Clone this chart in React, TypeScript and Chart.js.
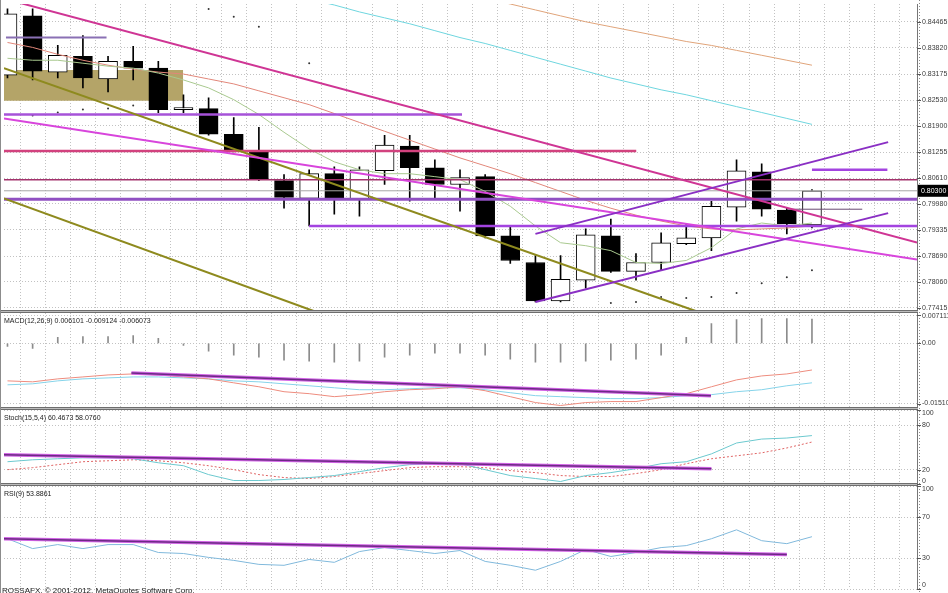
import React, { useEffect, useRef } from "react";
import { Chart, registerables } from "chart.js";

Chart.register(...registerables);

// ---------------- price data (daily candles) ----------------
const opens = [0.83152, 0.84611, 0.83225, 0.83614, 0.83055, 0.83493, 0.83322, 0.82301, 0.82326, 0.81694, 0.81256, 0.80551, 0.80114, 0.80721, 0.80089, 0.80794, 0.81402, 0.80867, 0.80454, 0.80648, 0.79190, 0.78533, 0.77585, 0.78096, 0.79190, 0.78315, 0.78533, 0.78995, 0.79141, 0.79895, 0.80770, 0.79822, 0.79457];
const highs = [0.84781, 0.84781, 0.83882, 0.84125, 0.83614, 0.83857, 0.83493, 0.82666, 0.82593, 0.82107, 0.81864, 0.80697, 0.80818, 0.80891, 0.80891, 0.81669, 0.81669, 0.81062, 0.80818, 0.80697, 0.79433, 0.78704, 0.78704, 0.79360, 0.79603, 0.78752, 0.79263, 0.79481, 0.80041, 0.81062, 0.80964, 0.79870, 0.80332];
const lows = [0.83079, 0.83031, 0.83079, 0.82836, 0.82739, 0.83031, 0.82228, 0.82228, 0.81669, 0.81256, 0.80551, 0.79870, 0.79433, 0.79725, 0.79676, 0.80454, 0.80041, 0.80114, 0.79797, 0.79141, 0.78509, 0.77560, 0.77560, 0.77901, 0.78290, 0.78096, 0.78339, 0.78970, 0.78825, 0.79554, 0.79676, 0.79238, 0.79384];
const closes = [0.84659, 0.83249, 0.83638, 0.83079, 0.83493, 0.83322, 0.82301, 0.82350, 0.81694, 0.81280, 0.80575, 0.80138, 0.80721, 0.80089, 0.80818, 0.81426, 0.80867, 0.80454, 0.80624, 0.79190, 0.78582, 0.77585, 0.78120, 0.79214, 0.78315, 0.78533, 0.79020, 0.79141, 0.79919, 0.80794, 0.79846, 0.79481, 0.80300];
const currentPrice = 0.803;

// moving averages
const fastMA = [0.83565, 0.83517, 0.83517, 0.83444, 0.83371, 0.83322, 0.83201, 0.83031, 0.82836, 0.82545, 0.82180, 0.81742, 0.81329, 0.81013, 0.80819, 0.80721, 0.80721, 0.80648, 0.80575, 0.80284, 0.79919, 0.79433, 0.79020, 0.78947, 0.78825, 0.78533, 0.78509, 0.78582, 0.78898, 0.79360, 0.79506, 0.79433, 0.79506];
const midMA = [0.83955, 0.83833, 0.83663, 0.83517, 0.83395, 0.83298, 0.83225, 0.83177, 0.83055, 0.82934, 0.82763, 0.82593, 0.82423, 0.82204, 0.81985, 0.81767, 0.81548, 0.81329, 0.81110, 0.80916, 0.80721, 0.80502, 0.80284, 0.80065, 0.79870, 0.79700, 0.79554, 0.79433, 0.79360, 0.79336, 0.79360, 0.79384, 0.79433];
const longMAStart = 12;
const longMA = [0.85024, 0.84878, 0.84708, 0.84562, 0.84416, 0.84246, 0.84076, 0.83930, 0.83760, 0.83590, 0.83420, 0.83250, 0.83079, 0.82934, 0.82788, 0.82666, 0.82520, 0.82374, 0.82229, 0.82083, 0.81937];
const longestMAStart = 19;
const longestMA = [0.85048, 0.84903, 0.84757, 0.84611, 0.84465, 0.84343, 0.84222, 0.84100, 0.83979, 0.83882, 0.83760, 0.83639, 0.83517, 0.83395];

// parabolic SAR dots
const psarIdx = [1, 2, 3, 4, 5, 8, 9, 10, 12, 24, 25, 26, 27, 28, 29, 30, 31, 32];
const psarVals = [0.82156, 0.82228, 0.82301, 0.82326, 0.82399, 0.84781, 0.84587, 0.84343, 0.83444, 0.77537, 0.77561, 0.77683, 0.77658, 0.77683, 0.77780, 0.78023, 0.78169, 0.78339];

// drawn objects (bar index, price)
const khakiBox = [-0.14, 6.99, 0.83274, 0.82520];
const resistTop = [[-0.14, 0.85035], [36.18, 0.79022]];
const resistMid = [[-0.14, 0.82083], [36.18, 0.78606]];
const oliveUpper = [[-0.14, 0.83322], [27.46, 0.77318]];
const oliveLower = [[-0.14, 0.80114], [12.26, 0.77318]];
const channelUpper = [[21, 0.79238], [35.03, 0.81499]];
const channelLower = [[21, 0.77561], [35.03, 0.79749]];
const levelA = [[-0.06, 0.84076], [3.94, 0.84076]];
const levelB = [[-0.14, 0.82180], [18.08, 0.82180]];
const levelC = [[-0.14, 0.81280], [25.01, 0.81280]];
const levelD = [[-0.14, 0.80575], [36.18, 0.80575]];
const levelE = [[-0.14, 0.80300], [36.18, 0.80300]];
const levelF = [[-0.14, 0.80089], [36.18, 0.80089]];
const levelG = [[12, 0.79433], [36.18, 0.79433]];
const levelH = [[32, 0.80818], [35, 0.80818]];
const levelI = [[31, 0.79846], [34, 0.79846]];

// MACD
const macdHist = [-0.00074, -0.00124, 0.00149, 0.00173, 0.00173, 0.00198, 0.00124, -0.00050, -0.00198, -0.00297, -0.00347, -0.00421, -0.00446, -0.00470, -0.00446, -0.00347, -0.00297, -0.00248, -0.00248, -0.00297, -0.00396, -0.00470, -0.00470, -0.00446, -0.00421, -0.00396, -0.00297, 0.00149, 0.00495, 0.00594, 0.00619, 0.00619, 0.00610];
const macdLineA = [-0.00941, -0.00965, -0.00891, -0.00842, -0.00792, -0.00767, -0.00792, -0.00842, -0.00891, -0.00990, -0.01089, -0.01213, -0.01262, -0.01337, -0.01287, -0.01213, -0.01163, -0.01139, -0.01089, -0.01188, -0.01337, -0.01485, -0.01559, -0.01485, -0.01460, -0.01460, -0.01361, -0.01262, -0.01089, -0.00916, -0.00817, -0.00767, -0.00668];
const macdLineB = [-0.01040, -0.01015, -0.00941, -0.00891, -0.00866, -0.00842, -0.00842, -0.00866, -0.00891, -0.00941, -0.00965, -0.01015, -0.01064, -0.01114, -0.01163, -0.01163, -0.01139, -0.01114, -0.01114, -0.01163, -0.01238, -0.01312, -0.01337, -0.01361, -0.01386, -0.01386, -0.01361, -0.01312, -0.01287, -0.01213, -0.01163, -0.01064, -0.00990];
const macdTrend = [[4.93, -0.00743], [27.98, -0.01312]];

// Stochastic
const stochMain = [30.7, 33.3, 34.7, 36.0, 36.0, 34.7, 29.3, 25.3, 13.3, 5.3, 5.3, 6.7, 9.3, 12.0, 17.3, 22.7, 26.7, 28.0, 28.0, 20.0, 12.0, 8.0, 4.0, 12.0, 16.0, 21.3, 28.0, 30.7, 41.3, 56.0, 61.3, 62.7, 66.0];
const stochSignal = [20.0, 22.7, 26.7, 30.7, 32.0, 33.3, 32.0, 29.3, 25.3, 20.0, 13.3, 9.3, 8.0, 10.7, 14.7, 18.7, 22.7, 24.0, 24.0, 22.7, 18.7, 16.0, 12.0, 10.7, 10.7, 14.7, 20.0, 28.0, 34.7, 38.7, 42.7, 49.3, 57.3];
const stochTrend = [[-0.14, 40.0], [28, 21.3]];

// RSI
const rsiVals = [49.0, 39.4, 43.3, 39.4, 43.3, 43.3, 35.6, 34.6, 30.8, 27.9, 24.0, 23.1, 28.8, 26.0, 36.5, 40.4, 37.5, 34.6, 37.5, 26.9, 23.1, 18.3, 26.9, 38.5, 31.7, 35.6, 40.4, 42.3, 49.0, 57.7, 47.1, 44.2, 51.0];
const rsiTrend = [[-0.14, 49.0], [31, 33.7]];

// axis ticks & texts
const mainTicks = [0.84465, 0.8382, 0.83175, 0.8253, 0.819, 0.81255, 0.8061, 0.7998, 0.79335, 0.7869, 0.7806, 0.77415];
const macdTicks = [0.007111, 0, -0.0151];
const macdTickLabels = ["0.007111", "0.00", "-0.01510"];
const stochTicks = [100, 80, 20, 0];
const rsiTicks = [100, 70, 30, 0];
const macdTitle = "MACD(12,26,9) 0.006101 -0.009124 -0.006073";
const stochTitle = "Stoch(15,5,4) 60.4673 58.0760";
const rsiTitle = "RSI(9) 53.8861";
const copyright = "ROSSAFX, \u00A9 2001-2012, MetaQuotes Software Corp.";

const X_MIN = -0.1386;
const X_MAX = 36.178;
const gridIdx = Array.from({ length: 37 }, (_, i) => i);

const pts = (arr) => arr.map((p) => ({ x: p[0], y: p[1] }));
const line = (data, color, width, axis, order, extra = {}) => ({
  type: "line",
  data,
  borderColor: color,
  borderWidth: width,
  pointRadius: 0,
  pointHoverRadius: 0,
  fill: false,
  tension: 0,
  yAxisID: axis,
  order,
  ...extra,
});

const overlayPlugin = {
  id: "mt4overlay",
  afterDraw(chart) {
    const { ctx, chartArea } = chart;
    const s = chart.scales;
    const R = chartArea.right;
    const W = chart.width;
    const H = chart.height;
    ctx.save();
    // separators
    [s.yMacd.top, s.yStoch.top, s.yRsi.top].forEach((y) => {
      const yy = Math.round(y);
      ctx.fillStyle = "#6e6e6e";
      ctx.fillRect(0, yy - 2, R + 1, 3);
      ctx.fillStyle = "#bdbdbd";
      ctx.fillRect(0, yy - 1, R + 1, 1);
    });
    // frame
    ctx.fillStyle = "#8c8c8c";
    ctx.fillRect(0, 0, 1, H);
    // dotted axis tick strip
    ctx.strokeStyle = "#8a8a8a";
    ctx.lineWidth = 1;
    ctx.setLineDash([1, 2]);
    ctx.beginPath();
    ctx.moveTo(R + 2.5, 0);
    ctx.lineTo(R + 2.5, H);
    ctx.stroke();
    ctx.setLineDash([]);

    ctx.font = '7px "Liberation Sans", Arial, sans-serif';
    ctx.textBaseline = "middle";
    ctx.textAlign = "left";
    const drawLabels = (scale, ticks, fmt) => {
      ticks.forEach((v, k) => {
        const py = scale.getPixelForValue(v);
        ctx.fillStyle = "#555";
        ctx.fillRect(R, Math.round(py), 4, 1);
        const y = Math.min(Math.max(py, scale.top + 4), scale.bottom - 4);
        ctx.fillStyle = "#3a3a3a";
        ctx.fillText(fmt(v, k), R + 5, y);
      });
    };
    drawLabels(s.yMain, mainTicks, (v) => v.toFixed(5));
    drawLabels(s.yMacd, macdTicks, (v, k) => macdTickLabels[k]);
    drawLabels(s.yStoch, stochTicks, (v) => String(v));
    drawLabels(s.yRsi, rsiTicks, (v) => String(v));

    // current price box
    const yp = s.yMain.getPixelForValue(currentPrice);
    ctx.fillStyle = "#000";
    ctx.fillRect(R + 1, yp - 6, W - R - 1, 12);
    ctx.fillStyle = "#fff";
    ctx.fillText(currentPrice.toFixed(5), R + 4, yp);

    // panel titles
    ctx.fillStyle = "#222";
    ctx.font = '7px "Liberation Sans", Arial, sans-serif';
    ctx.fillText(macdTitle, 4, s.yMacd.top + 9);
    ctx.fillText(stochTitle, 4, s.yStoch.top + 9);
    ctx.fillText(rsiTitle, 4, s.yRsi.top + 9);
    ctx.font = '8px "Liberation Sans", Arial, sans-serif';
    ctx.fillText(copyright, 2, H - 2);
    ctx.restore();
  },
};

export default function App() {
  const ref = useRef(null);
  useEffect(() => {
    document.body.style.margin = "0";
    const idx = opens.map((_, i) => i);
    const gridColor = "#c2c2c2";
    const yAxis = (weight, min, max, ticks) => ({
      type: "linear",
      position: "right",
      stack: "panes",
      stackWeight: weight,
      min,
      max,
      ticks: { display: false },
      afterBuildTicks: (sc) => {
        sc.ticks = ticks.map((v) => ({ value: v }));
      },
      afterFit: (sc) => {
        sc.width = 31;
      },
      grid: { color: gridColor, drawTicks: false, lineWidth: 1 },
      border: { display: true, color: "#777", width: 1, dash: [1, 2] },
    });

    const datasets = [
      // ---- top layer: drawn objects ----
      line(pts(channelUpper), "#8a2fc4", 2, "yMain", 1),
      line(pts(channelLower), "#8a2fc4", 2, "yMain", 1),
      line(pts(resistTop), "#cf3594", 2, "yMain", 2),
      line(pts(resistMid), "#d845dc", 2, "yMain", 2),
      line(pts(oliveUpper), "#8e8a1e", 2, "yMain", 2),
      line(pts(oliveLower), "#8e8a1e", 2, "yMain", 2),
      line(pts(levelA), "#8a70b4", 2, "yMain", 3),
      line(pts(levelB), "#a652d8", 2.5, "yMain", 3),
      line(pts(levelC), "#d2427e", 2.5, "yMain", 3),
      line(pts(levelD), "#a3326c", 1.5, "yMain", 3),
      line(pts(levelE), "#a6a6a6", 1, "yMain", 3),
      line(pts(levelF), "#9050c2", 3, "yMain", 3),
      line(pts(levelG), "#a344e0", 2.5, "yMain", 3),
      line(pts(levelH), "#a344e0", 2.5, "yMain", 3),
      line(pts(levelI), "#6a4a72", 1, "yMain", 3),
      // ---- indicators on price ----
      line(fastMA.map((v, i) => ({ x: i, y: v })), "#a9c98f", 1, "yMain", 5),
      line(midMA.map((v, i) => ({ x: i, y: v })), "#e2877a", 1, "yMain", 5),
      line(longMA.map((v, i) => ({ x: i + longMAStart, y: v })), "#6fd6df", 1, "yMain", 5),
      line(longestMA.map((v, i) => ({ x: i + longestMAStart, y: v })), "#e0a47a", 1, "yMain", 5),
      {
        type: "scatter",
        data: psarIdx.map((x, k) => ({ x, y: psarVals[k] })),
        pointRadius: 1,
        pointBackgroundColor: "#333",
        pointBorderWidth: 0,
        yAxisID: "yMain",
        order: 6,
      },
      // ---- candles ----
      {
        type: "bar",
        data: idx.map((i) => ({ x: i, y: [opens[i], closes[i]] })),
        backgroundColor: idx.map((i) => (closes[i] >= opens[i] ? "#ffffff" : "#000000")),
        borderColor: "#000",
        borderWidth: 1,
        borderSkipped: false,
        barThickness: 19,
        grouped: false,
        yAxisID: "yMain",
        order: 10,
      },
      {
        type: "bar",
        data: idx.map((i) => ({ x: i, y: [lows[i], highs[i]] })),
        backgroundColor: "#000",
        barThickness: 1,
        grouped: false,
        yAxisID: "yMain",
        order: 11,
      },
      // khaki rectangle (background object)
      line(
        [
          { x: khakiBox[0], y: khakiBox[2] },
          { x: khakiBox[1], y: khakiBox[2] },
        ],
        "rgba(0,0,0,0)",
        0,
        "yMain",
        20,
        { fill: { value: khakiBox[3] }, backgroundColor: "#b4a468" }
      ),
      // ---- MACD ----
      line(pts(macdTrend), "#6c2a84", 1.5, "yMacd", 1),
      line(pts(macdTrend), "#d263e6", 3.5, "yMacd", 2),
      line(macdLineA.map((v, i) => ({ x: i, y: v })), "#ee8c7e", 1, "yMacd", 3),
      line(macdLineB.map((v, i) => ({ x: i, y: v })), "#86d4ea", 1, "yMacd", 3),
      {
        type: "bar",
        data: idx.map((i) => ({ x: i, y: macdHist[i] })),
        backgroundColor: "#8c8c8c",
        barThickness: 1,
        grouped: false,
        yAxisID: "yMacd",
        order: 4,
      },
      // ---- Stochastic ----
      line(pts(stochTrend), "#6c2a84", 1.5, "yStoch", 1),
      line(pts(stochTrend), "#d263e6", 3.5, "yStoch", 2),
      line(stochMain.map((v, i) => ({ x: i, y: v })), "#6cc9cf", 1, "yStoch", 3),
      line(stochSignal.map((v, i) => ({ x: i, y: v })), "#e06464", 1, "yStoch", 3, { borderDash: [2, 2] }),
      // ---- RSI ----
      line(pts(rsiTrend), "#6c2a84", 1.5, "yRsi", 1),
      line(pts(rsiTrend), "#d263e6", 3.5, "yRsi", 2),
      line(rsiVals.map((v, i) => ({ x: i, y: v })), "#80b9dc", 1, "yRsi", 3),
    ];

    const chart = new Chart(ref.current, {
      type: "bar",
      data: { datasets },
      options: {
        responsive: false,
        animation: false,
        events: [],
        layout: { padding: 0 },
        plugins: {
          legend: { display: false },
          tooltip: { enabled: false },
          title: { display: false },
        },
        scales: {
          x: {
            type: "linear",
            min: X_MIN,
            max: X_MAX,
            offset: false,
            ticks: { display: false },
            afterBuildTicks: (sc) => {
              sc.ticks = gridIdx.map((v) => ({ value: v }));
            },
            afterFit: (sc) => {
              sc.height = 0;
            },
            grid: { color: gridColor, drawTicks: false, lineWidth: 1 },
            border: { display: false, dash: [1, 2] },
          },
          yMain: yAxis(312, 0.77318, 0.84903, mainTicks),
          yMacd: yAxis(99, -0.01658, 0.00792, macdTicks),
          yStoch: yAxis(77, -1.3, 101.3, stochTicks),
          yRsi: yAxis(105, 0, 101, rsiTicks),
        },
      },
      plugins: [overlayPlugin],
    });
    return () => chart.destroy();
  }, []);

  return (
    <div style={{ position: "absolute", left: 0, top: 0, width: 948, height: 593, background: "#fff" }}>
      <canvas ref={ref} width={948} height={593} />
    </div>
  );
}
